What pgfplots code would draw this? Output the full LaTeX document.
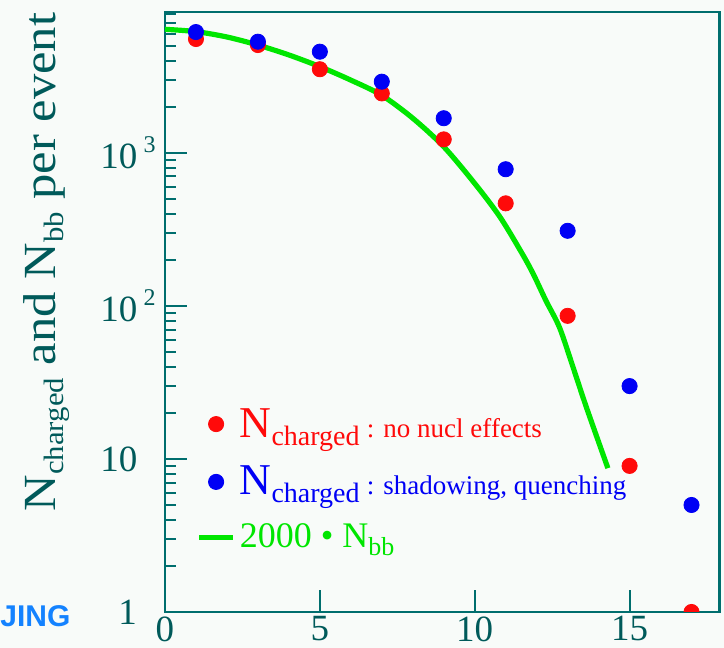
\documentclass[border=0pt]{standalone}
\usepackage{pgfplots}
\pgfplotsset{compat=1.18}
\usepackage{fontspec}
\setmainfont{Liberation Serif}
\setsansfont{Liberation Sans}
\definecolor{frame}{RGB}{0,110,110}
\definecolor{tealtxt}{RGB}{0,90,90}
\definecolor{ptred}{RGB}{255,10,10}
\definecolor{ptblue}{RGB}{0,0,245}
\definecolor{lgreen}{RGB}{0,230,0}
\definecolor{jingblue}{RGB}{20,130,255}
\definecolor{bg}{RGB}{248,251,249}
\newcommand{\sub}[1]{\raisebox{-4pt}{\fontsize{14}{14}\selectfont #1}}
\begin{document}
\begin{tikzpicture}
\fill[bg] (-82.5pt,-18pt) rectangle (279.5pt,306pt);
\begin{axis}[
  at={(0,0)}, anchor=south west, scale only axis,
  width=277.2pt, height=300pt,
  ymode=log, xmin=0, xmax=17.9, ymin=1, ymax=8300,
  axis line style={frame, line width=1.2pt},
  xtick={0,5,10,15}, xticklabels={0,5,10,15},
  ytick={1,10,100,1000},
  yticklabels={\hspace*{9pt}1,10,{10\,\raisebox{0.45em}{\fontsize{12}{12}\selectfont 2}},{10\,\raisebox{0.45em}{\fontsize{12}{12}\selectfont 3}}},
  minor ytick={2,3,4,5,6,7,8,9,20,30,40,50,60,70,80,90,200,300,400,500,600,700,800,900,2000,3000,4000,5000,6000,7000,8000},
  tick align=inside,
  xtick pos=left, ytick pos=left,
  major tick length=11pt, minor tick length=5.5pt,
  tick style={frame, line width=1pt},
  ticklabel style={text=tealtxt, font=\fontsize{18.5}{20}\selectfont},
  yticklabel style={anchor=west, inner sep=0pt, xshift=-32.5pt},
  xticklabel style={inner sep=2pt},
  clip marker paths=true,
  legend style={draw=none, fill=none, at={(rel axis cs:0.056,0.347)}, anchor=north west, inner sep=0pt, row sep=9pt},
  legend cell align=left,
]
\addplot[forget plot, lgreen, line width=2.6pt, smooth, line join=round] coordinates {
(0,6400) (1,6180) (2,5700) (3,5050) (4,4350) (5,3650) (6,2980) (7,2370) (8,1680) (9,1094) (10,630) (10.81,382) (11.5,225) (11.88,163) (12.3,108) (12.74,72) (13.17,40) (13.6,21.9) (14.3,8.7)
};
\addplot[only marks, mark=*, mark size=3.8pt, color=ptred, mark options={draw=none, fill=ptred}] coordinates {
(1,5530) (3,5050) (5,3510) (7,2440) (9,1222) (11,467) (13,86) (15,9.0) (17,1.0)
};
\addlegendentry{\textcolor{ptred}{\fontsize{22}{24}\selectfont N\sub{charged}\,\fontsize{13.5}{14}\selectfont : no nucl effects}}
\addplot[only marks, mark=*, mark size=3.8pt, color=ptblue, mark options={draw=none, fill=ptblue}] coordinates {
(1,6140) (3,5310) (5,4570) (7,2910) (9,1680) (11,780) (13,309) (15,29.9) (17,5.0)
};
\addlegendentry{\textcolor{ptblue}{\fontsize{22}{24}\selectfont N\sub{charged}\,\fontsize{13.5}{14}\selectfont : shadowing, quenching}}
\addlegendimage{lgreen, line width=2.6pt}
\addlegendentry{\textcolor{lgreen}{\fontsize{18}{20}\selectfont 2000 • N\raisebox{-4pt}{\fontsize{13}{13}\selectfont bb}}}
\end{axis}
\node[rotate=90, anchor=base, text=tealtxt, font=\fontsize{23}{25}\selectfont, inner sep=0pt] at (-54.5pt,175pt) {\scalebox{1.1}[1]{N\sub{charged} and N\sub{bb} per event}};
\node[anchor=base west, text=jingblue, font=\sffamily\bfseries\fontsize{15}{16}\selectfont, inner sep=0pt] at (-82.5pt,-7.5pt) {JING};
\end{tikzpicture}
\end{document}
